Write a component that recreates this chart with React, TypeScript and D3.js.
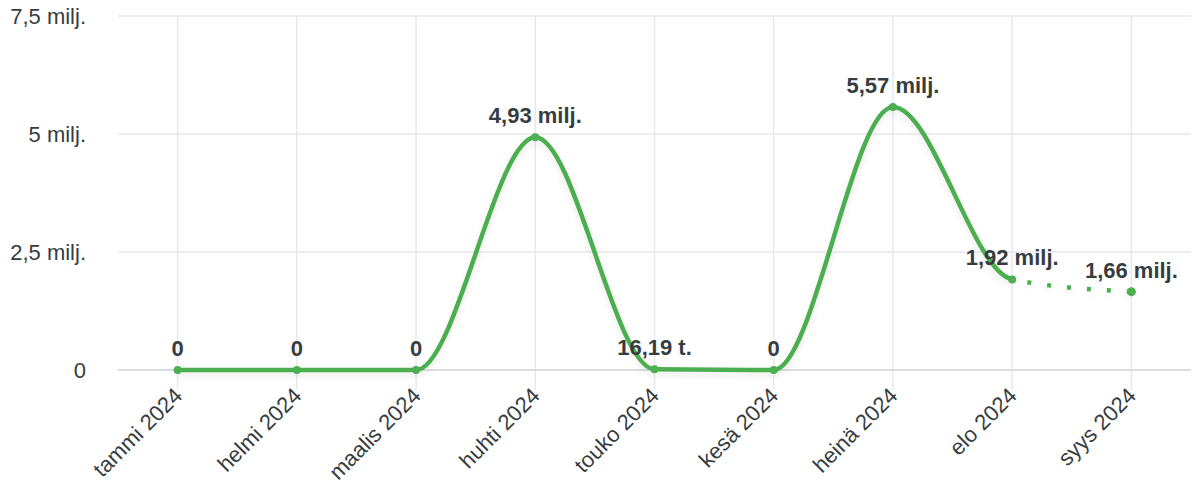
import React from "react";
import * as d3 from "d3";

const categories = ["tammi 2024", "helmi 2024", "maalis 2024", "huhti 2024", "touko 2024", "kesä 2024", "heinä 2024", "elo 2024", "syys 2024"];
const values = [0, 0, 0, 4930000, 16190, 0, 5570000, 1920000, 1660000];
const yTicks = [0, 2500000, 5000000, 7500000];
const forecastStartIndex = 7;

const W = 1194;
const H = 489;
const left = 118;
const right = 1191;
const top = 16;
const bottom = 370;
const green = "#4CAF50";
const textColor = "#373d3f";
const font = "'Liberation Sans', Arial, sans-serif";

function fmt(v: number): string {
  if (v >= 1e6) {
    const s = (v / 1e6).toFixed(2).replace(/\.?0+$/, "");
    return s.replace(".", ",") + " milj.";
  }
  if (v >= 1e3) return (v / 1e3).toFixed(2).replace(".", ",") + " t.";
  return "0";
}
function fmtTick(v: number): string {
  if (v === 0) return "0";
  return String(v / 1e6).replace(".", ",") + " milj.";
}

export default function App() {
  const x = d3.scalePoint<string>().domain(categories).range([left, right]).padding(0.5);
  const y = d3.scaleLinear().domain([0, 7500000]).range([bottom, top]);
  const pts: [number, number][] = values.map((v, i) => [x(categories[i]) as number, y(v)]);
  const line = d3.line<[number, number]>().x(d => d[0]).y(d => d[1]).curve(d3.curveMonotoneX);
  const path = line(pts) || "";
  const splitX = x(categories[forecastStartIndex]) as number;

  return (
    <svg width={W} height={H} style={{ position: "absolute", left: 0, top: 0, background: "#fff" }}>
      <defs>
        <clipPath id="solidClip">
          <rect x={0} y={0} width={splitX} height={H} />
        </clipPath>
        <clipPath id="dashClip">
          <rect x={splitX} y={0} width={W - splitX} height={H} />
        </clipPath>
        <filter id="shadow" x="-10%" y="-10%" width="120%" height="130%">
          <feDropShadow dx={0} dy={4} stdDeviation={3} floodColor="#000" floodOpacity={0.08} />
        </filter>
      </defs>
      {categories.map(c => (
        <line key={c} x1={x(c)} x2={x(c)} y1={top} y2={bottom + 20} stroke="#e7e9ee" strokeWidth={1.5} />
      ))}
      {yTicks.map(t => (
        <g key={t}>
          <line x1={left} x2={right} y1={y(t)} y2={y(t)} stroke={t === 0 ? "#d9dce2" : "#e7e9ee"} strokeWidth={t === 0 ? 2 : 1.5} />
          <text x={86} y={y(t)} dy="0.35em" textAnchor="end" fontFamily={font} fontSize={22} fill={textColor}>{fmtTick(t)}</text>
        </g>
      ))}
      <g filter="url(#shadow)">
        <path d={path} fill="none" stroke={green} strokeWidth={4.5} clipPath="url(#solidClip)" />
        <path d={path} fill="none" stroke={green} strokeWidth={4.5} strokeDasharray="4 16" clipPath="url(#dashClip)" />
      </g>
      {pts.map((p, i) => (
        <circle key={i} cx={p[0]} cy={p[1]} r={i === categories.length - 1 ? 4.5 : 4} fill={green} />
      ))}
      {pts.map((p, i) => (
        <text key={"l" + i} x={p[0]} y={p[1] - 14} textAnchor="middle" fontFamily={font} fontWeight="bold" fontSize={22} fill={textColor}>{fmt(values[i])}</text>
      ))}
      {categories.map(c => (
        <text key={"x" + c} transform={`translate(${(x(c) as number) + 6},${bottom + 27}) rotate(-45)`} textAnchor="end" fontFamily={font} fontSize={22} fill={textColor}>{c}</text>
      ))}
    </svg>
  );
}
